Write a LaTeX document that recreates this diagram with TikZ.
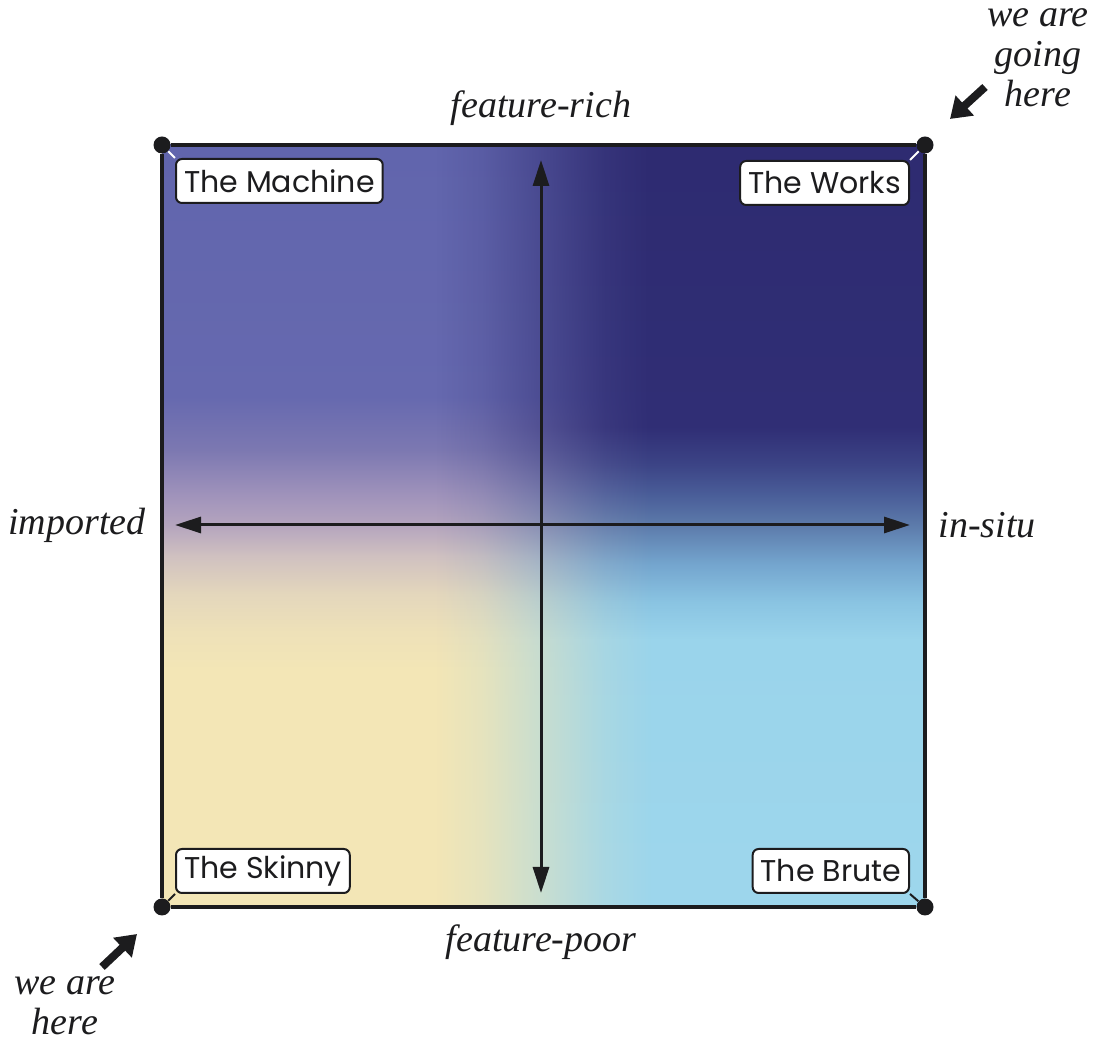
\documentclass[tikz,border=0pt]{standalone}
\usepackage{fontspec}
\setmainfont{Liberation Serif}
\newfontfamily\quadfont{Poppins}
\usetikzlibrary{arrows.meta,fadings}

\definecolor{inkq}{HTML}{1C1C1E}
\pgfdeclareverticalshading{importedside}{100bp}{color(0bp)=({rgb,255:red,243;green,230;blue,182});
  color(40.5bp)=({rgb,255:red,243;green,230;blue,182}); color(43bp)=({rgb,255:red,238;green,225;blue,184});
  color(45.5bp)=({rgb,255:red,228;green,215;blue,188}); color(48bp)=({rgb,255:red,208;green,193;blue,192});
  color(50.1bp)=({rgb,255:red,180;green,164;blue,190}); color(52bp)=({rgb,255:red,160;green,147;blue,187});
  color(55bp)=({rgb,255:red,124;green,120;blue,177}); color(58.5bp)=({rgb,255:red,102;green,105;blue,175});
  color(75bp)=({rgb,255:red,97;green,101;blue,173}); color(100bp)=({rgb,255:red,97;green,101;blue,173})}
\pgfdeclareverticalshading{insituside}{100bp}{color(0bp)=({rgb,255:red,162;green,218;blue,237});
  color(42.5bp)=({rgb,255:red,154;green,212;blue,235}); color(45bp)=({rgb,255:red,138;green,196;blue,226});
  color(47.5bp)=({rgb,255:red,116;green,165;blue,206}); color(50.1bp)=({rgb,255:red,92;green,122;blue,170});
  color(52bp)=({rgb,255:red,74;green,94;blue,153}); color(54bp)=({rgb,255:red,60;green,68;blue,134});
  color(56.5bp)=({rgb,255:red,48;green,46;blue,117}); color(75bp)=({rgb,255:red,46;green,43;blue,113});
  color(100bp)=({rgb,255:red,46;green,43;blue,113})}
\pgfdeclarehorizontalshading{insitumask}{100bp}{color(0bp)=(black); color(43bp)=(black);
  color(46bp)=(black!85!white); color(50bp)=(black!50!white); color(54bp)=(black!15!white);
  color(57bp)=(white); color(100bp)=(white)}
\pgfdeclarefading{insitufade}{\pgfuseshading{insitumask}}

\begin{document}
\begin{tikzpicture}[x=0.5pt, y=0.5pt,
                corner_dot/.style={circle, fill=inkq, inner sep=0pt, minimum size=8.5pt},
                quad_label/.style={draw=inkq, fill=white, line width=1pt, rounded corners=3pt,
                    inner xsep=4pt, inner ysep=0pt, minimum height=22pt, font=\quadfont\fontsize{15}{17}\selectfont, text=inkq},
                axis_label/.style={font=\itshape\fontsize{19}{20}\selectfont, text=inkq, align=center},
                axis_style/.style={draw=inkq, line width=1.5pt, {Triangle[length=13pt, width=8pt]}-{Triangle[length=13pt, width=8pt]}},
                here_arrow/.style={draw=inkq, line width=4pt, -{Triangle[length=10pt, width=13pt]}}]
    \useasboundingbox (0,0) rectangle (1096,1042);
    % background field
    \shade[shading=importedside] (162,135) rectangle (925,897);
    \shade[shading=insituside, path fading=insitufade] (162,135) rectangle (925,897);
    % axes
    \coordinate (poor_end) at (541,149);
    \coordinate (rich_end) at (541,882);
    \coordinate (imp_end) at (175,517);
    \coordinate (situ_end) at (910,517);
    \draw[axis_style] (poor_end) -- (rich_end);
    \draw[axis_style] (imp_end) -- (situ_end);
    % corners
    \node[corner_dot] (c_tl) at (162,897) {};
    \node[corner_dot] (c_tr) at (925,897) {};
    \node[corner_dot] (c_bl) at (162,135) {};
    \node[corner_dot] (c_br) at (925,135) {};
    \draw[inkq, line width=2pt] (c_tl) -- (c_tr) (c_tr) -- (c_br) (c_br) -- (c_bl) (c_bl) -- (c_tl);
    % quadrant labels
    \node[quad_label, anchor=north west] (machine) at (175,884) {The Machine};
    \node[quad_label, anchor=north east] (works) at (910,882) {The Works};
    \node[quad_label, anchor=south west] (skinny) at (175,148) {The Skinny};
    \node[quad_label, anchor=south east] (brute) at (910,148) {The Brute};
    \draw[white, line width=1pt] (c_tl) edge (machine.north west) {};
    \draw[white, line width=1pt] (c_tr) edge (works.north east) {};
    \draw[inkq, line width=1pt] (c_bl) edge (skinny.south west) {};
    \draw[inkq, line width=1pt] (c_br) edge (brute.south east) {};
    % axis names
    \node[axis_label] (rich) at (541,934) {feature-rich};
    \node[axis_label] (poor) at (541,100) {feature-poor};
    \node[axis_label] (imported) at (77,517) {imported};
    \node[axis_label] (insitu) at (987,517) {in-situ};
    % we are here / going
    \node[axis_label] (going) at (1038,984) {we are\\going\\here};
    \node[axis_label] (here) at (65,36) {we are\\here};
    \coordinate (going_tail) at (985,955);
    \coordinate (going_tip) at (950,923);
    \coordinate (here_tail) at (102,75);
    \coordinate (here_tip) at (137,108);
    \draw[here_arrow] (going_tail) -- (going_tip);
    \draw[here_arrow] (here_tail) -- (here_tip);
\end{tikzpicture}
\end{document}
